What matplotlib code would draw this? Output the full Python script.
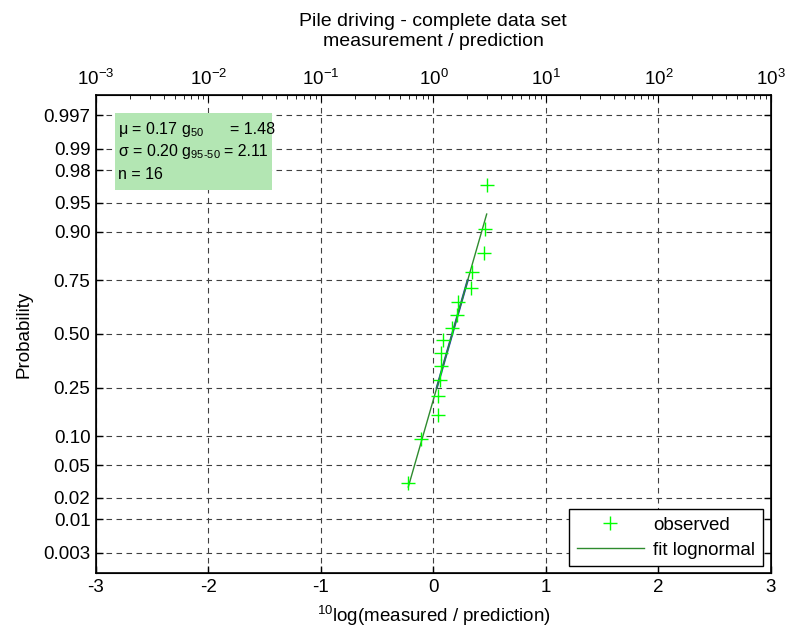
import math
import numpy as np
import matplotlib
matplotlib.use('Agg')
import matplotlib.pyplot as plt
from matplotlib.patches import Rectangle
from matplotlib.ticker import LogLocator, NullFormatter

plt.rcParams['font.family'] = ['Liberation Sans', 'DejaVu Sans']
plt.rcParams['font.size'] = 13.5
plt.rcParams['axes.unicode_minus'] = False
plt.rcParams['mathtext.fontset'] = 'custom'
plt.rcParams['mathtext.rm'] = 'Liberation Sans'
plt.rcParams['mathtext.it'] = 'Liberation Sans'

# observed 10log(measured / prediction), sorted
log_ratio = [-0.224, -0.111, 0.037, 0.043, 0.058, 0.066, 0.070, 0.082,
             0.167, 0.207, 0.220, 0.333, 0.340, 0.449, 0.458, 0.473]
# plotting positions
prob = [0.031, 0.094, 0.156, 0.219, 0.281, 0.344, 0.406, 0.469,
        0.531, 0.594, 0.656, 0.719, 0.781, 0.844, 0.906, 0.969]

prob_ticks = [0.003, 0.01, 0.02, 0.05, 0.10, 0.25, 0.50, 0.75, 0.90, 0.95, 0.98, 0.99, 0.997]
prob_labels = ['0.003', '0.01', '0.02', '0.05', '0.10', '0.25', '0.50', '0.75',
               '0.90', '0.95', '0.98', '0.99', '0.997']
top_exp = [-3, -2, -1, 0, 1, 2, 3]

stats_left = [r'$\mu$ = 0.17 g$_{50}$', r'$\sigma$ = 0.20 g$_{95\text{-}50}$', 'n = 16']
stats_right = ['= 1.48', '= 2.11']


def norm_ppf(p):
    # inverse normal cdf by bisection, no scipy needed
    lo, hi = -10.0, 10.0
    for _ in range(80):
        mid = 0.5 * (lo + hi)
        if 0.5 * (1 + math.erf(mid / math.sqrt(2))) < p:
            lo = mid
        else:
            hi = mid
    return 0.5 * (lo + hi)


x = np.array(log_ratio)
z = np.array([norm_ppf(p) for p in prob])
mu = x.mean()
sigma = x.std(ddof=1)

fig = plt.figure(figsize=(7.88, 6.34), dpi=100)
ax = fig.add_axes([0.1218, 0.0962, 0.8566, 0.754])

# blue reference segment between the quartiles, lying under the green fit
zq = np.array([norm_ppf(0.25), norm_ppf(0.75)])
ax.plot(mu + sigma * zq, zq, color='#1f3fbf', lw=1.6, zorder=3)
xf = np.array([x.min(), x.max()])
ax.plot(xf, (xf - mu) / sigma, color='#2e8b2e', lw=1.0, zorder=4, label='fit lognormal')
ax.plot(x, z, linestyle='none', marker='+', color='#00ff00', ms=10, mew=1.0,
        zorder=5, label='observed')

ax.set_xlim(-3, 3)
ax.set_ylim(-3, 3)
ax.set_xticks(range(-3, 4))
ax.set_yticks([norm_ppf(p) for p in prob_ticks])
ax.set_yticklabels(prob_labels)
ax.tick_params(direction='in', length=5, width=1, right=True, labelsize=13.5, pad=4)
ax.grid(True, linestyle=(0, (5, 4)), color='0.25', lw=0.8)
for s in ax.spines.values():
    s.set_linewidth(1.2)

ax2 = ax.twiny()
ax2.set_xscale('log')
ax2.set_xlim(1e-3, 1e3)
ax2.set_xticks([10.0 ** e for e in top_exp])
ax2.set_xticklabels([r'$10^{%d}$' % e for e in top_exp])
ax2.xaxis.set_minor_locator(LogLocator(base=10, subs=np.arange(2, 10), numticks=20))
ax2.xaxis.set_minor_formatter(NullFormatter())
ax2.tick_params(which='both', direction='in', labelsize=13.5, pad=4)
ax2.tick_params(which='major', length=5)
ax2.tick_params(which='minor', length=3)

ax.set_ylabel('Probability', fontsize=13.5, labelpad=8)
ax.set_xlabel(r'$^{10}$log(measured / prediction)', fontsize=13.5, labelpad=6)
fig.text(0.5495, 0.966, 'Pile driving - complete data set', ha='center', va='center', fontsize=14)
fig.text(0.5495, 0.934, 'measurement / prediction', ha='center', va='center', fontsize=14)

# statistics box
ax.add_patch(Rectangle((0.028, 0.801), 0.233, 0.161, transform=ax.transAxes,
                       facecolor='#b3e6b3', edgecolor='none', zorder=6))
ty = [0.927, 0.881, 0.833]
for s, yy in zip(stats_left, ty):
    ax.text(0.033, yy, s, transform=ax.transAxes, va='center', ha='left', fontsize=11.5, zorder=7)
for s, yy, xx in zip(stats_right, ty, [0.198, 0.190]):
    ax.text(xx, yy, s, transform=ax.transAxes, va='center', ha='left', fontsize=11.5, zorder=7)

h, l = ax.get_legend_handles_labels()
leg = ax.legend(h[::-1], l[::-1], loc='lower right', bbox_to_anchor=(0.988, 0.0146),
                borderaxespad=0, handlelength=3.6, fancybox=False, framealpha=1,
                edgecolor='k', fontsize=13.5, borderpad=0.4, handletextpad=0.5,
                labelspacing=0.4)
leg.get_frame().set_linewidth(1.0)
leg.set_zorder(8)

fig.savefig('out.png', dpi=100)
